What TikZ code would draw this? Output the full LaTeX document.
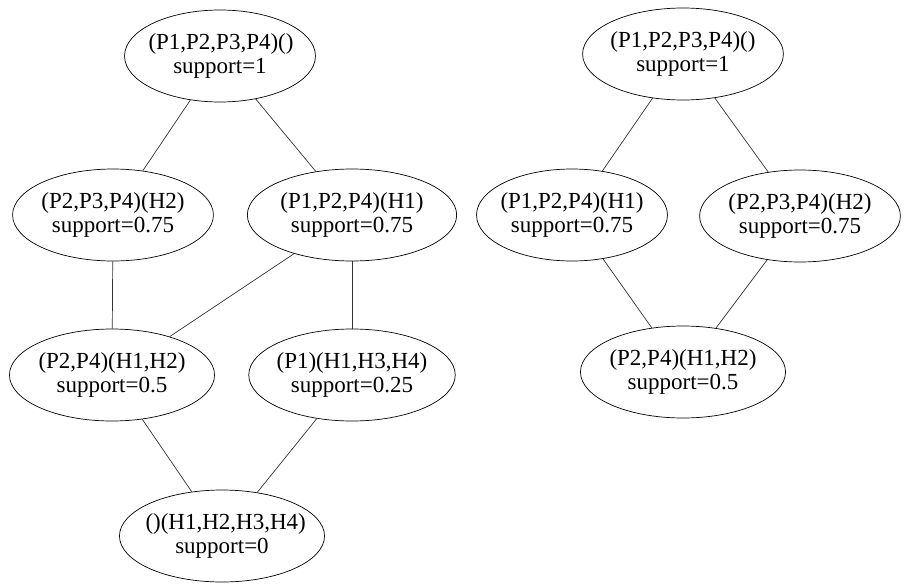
\documentclass[tikz,border=0pt]{standalone}
\usepackage{fontspec}
\setmainfont{Liberation Serif}
\usepackage{tikz}
\usetikzlibrary{shapes.geometric}

\begin{document}
\begin{tikzpicture}[x=1pt,y=-1pt,
    lat/.style={ellipse,draw,line width=0.7pt,inner xsep=-4pt,inner ysep=0pt,
                text width=150pt,align=center,minimum height=92pt,
                font=\fontsize{23}{23.5}\selectfont},
    edge/.style={draw,line width=0.7pt,black!80}]
%
  \useasboundingbox (0,0) rectangle (905,584) ;
%
% left lattice
  \node (top) [lat,text width=143pt] at (220,56)  {(P1,P2,P3,P4)()\\support=1} ;
  \node (ml)  [lat] at (113,215) {(P2,P3,P4)(H2)\\support=0.75} ;
  \node (mr)  [lat,text width=156pt] at (352,215) {(P1,P2,P4)(H1)\\support=0.75} ;
  \node (bl)  [lat,text width=153pt] at (112,375) {(P2,P4)(H1,H2)\\support=0.5} ;
  \node (br)  [lat,text width=154pt] at (352,375) {(P1)(H1,H3,H4)\\support=0.25} ;
  \node (bot) [lat,text width=153pt] at (222,536) {()(H1,H2,H3,H4)\\support=0} ;
%
  \draw [edge] (top) -- (ml) ;
  \draw [edge] (top) -- (mr) ;
  \draw [edge] (ml) -- (bl) ;
  \draw [edge] (mr) -- (bl) ;
  \draw [edge] (mr) -- (br) ;
  \draw [edge] (bl) -- (bot) ;
  \draw [edge] (br) -- (bot) ;
%
% right lattice
  \node (rtop) [lat] at (683,54)  {(P1,P2,P3,P4)()\\support=1} ;
  \node (rml)  [lat,text width=143pt] at (572,215) {(P1,P2,P4)(H1)\\support=0.75} ;
  \node (rmr)  [lat] at (800,216) {(P2,P3,P4)(H2)\\support=0.75} ;
  \node (rbot) [lat,text width=153pt] at (683,372) {(P2,P4)(H1,H2)\\support=0.5} ;
%
  \draw [edge] (rtop) -- (rml) ;
  \draw [edge] (rtop) -- (rmr) ;
  \draw [edge] (rml) -- (rbot) ;
  \draw [edge] (rmr) -- (rbot) ;
%
\end{tikzpicture}
\end{document}
